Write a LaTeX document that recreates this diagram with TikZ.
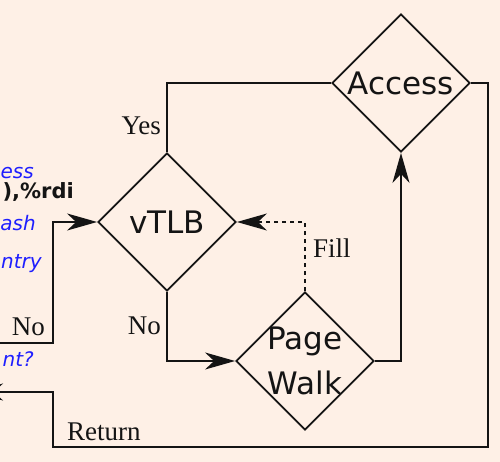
\documentclass[tikz,border=0pt]{standalone}
\usepackage{fontspec}
\setmainfont{Liberation Serif}
\newfontfamily\dvs{DejaVu Sans}
\usetikzlibrary{shapes.geometric,arrows.meta}
\definecolor{bg}{RGB}{254,240,230}
\definecolor{txtblue}{RGB}{30,30,255}
\definecolor{ink}{RGB}{20,20,20}
\begin{document}
\begin{tikzpicture}[x=1pt,y=-1pt,
  dnode/.style={diamond,draw=ink,line width=1.8pt,minimum width=138pt,minimum height=138pt,inner sep=0pt,aspect=1},
  dtext/.style={font=\dvs\fontsize{31}{45}\selectfont,align=center,inner sep=0pt,text=ink},
  lbl/.style={font=\fontsize{27}{30}\selectfont,inner sep=0pt,text=ink},
  btxt/.style={font=\dvs\itshape\fontsize{20}{24}\selectfont,text=txtblue,inner sep=0pt,anchor=base east},
  conn/.style={draw=ink,line width=1.8pt},
  arr/.style={conn,-{Stealth[length=30pt,width=17pt,inset=9pt]}}
]
\fill[bg] (0,0) rectangle (500,462);
\useasboundingbox (0,0) rectangle (500,462);
\clip (0,0) rectangle (500,462);

% decision diamonds
\node[dnode] (vtlb) at (167,222) {};
\node[dnode] (acc) at (401,83) {};
\node[dnode] (pw) at (305,361) {};
\node[dtext] (vtlbt) at (vtlb) {vTLB};
\node[dtext] (acct) at (acc) {Access};
\node[dtext] (pwt) at (pw) {Page\\Walk};

% helper coordinates
\coordinate (rx) at (488,447);
\coordinate (lx) at (53,392);
\coordinate (lend) at (-27,392);
\coordinate (lin) at (0,343);
\coordinate (lc) at (53,343);

% connectors
\draw[conn] (vtlb.north) -- (vtlb.north |- acc.west) -- (acc.west);
\draw[arr] (vtlb.south) |- (pw.west);
\draw[arr,dash pattern=on 4pt off 4pt] (pw.north) |- (vtlb.east);
\draw[arr] (pw.east) -| (acc.south);
\draw[arr] (acc.east) -| (rx) -| (lx) -- (lend);
\draw[arr] (lin) -- (lc) |- (vtlb.west);

% labels
\node[lbl,anchor=base east] (yes) at (161,135) {Yes};
\node[lbl,anchor=base east] (no1) at (161,334) {No};
\node[lbl,anchor=base east] (no2) at (45,335) {No};
\node[lbl,anchor=base west] (fill) at (313,258) {Fill};
\node[lbl,anchor=base west] (ret) at (67,440) {Return};

% text at the left edge
\node[btxt] (t1) at (34,179) {ess};
\node[font=\dvs\bfseries\fontsize{21}{24}\selectfont,anchor=base east,inner sep=0pt,text=ink] (t2) at (74,199) {),\%rdi};
\node[btxt] (t3) at (36,230) {ash};
\node[btxt] (t4) at (42,268) {ntry};
\node[btxt] (t5) at (34,366) {nt?};
\end{tikzpicture}
\end{document}
